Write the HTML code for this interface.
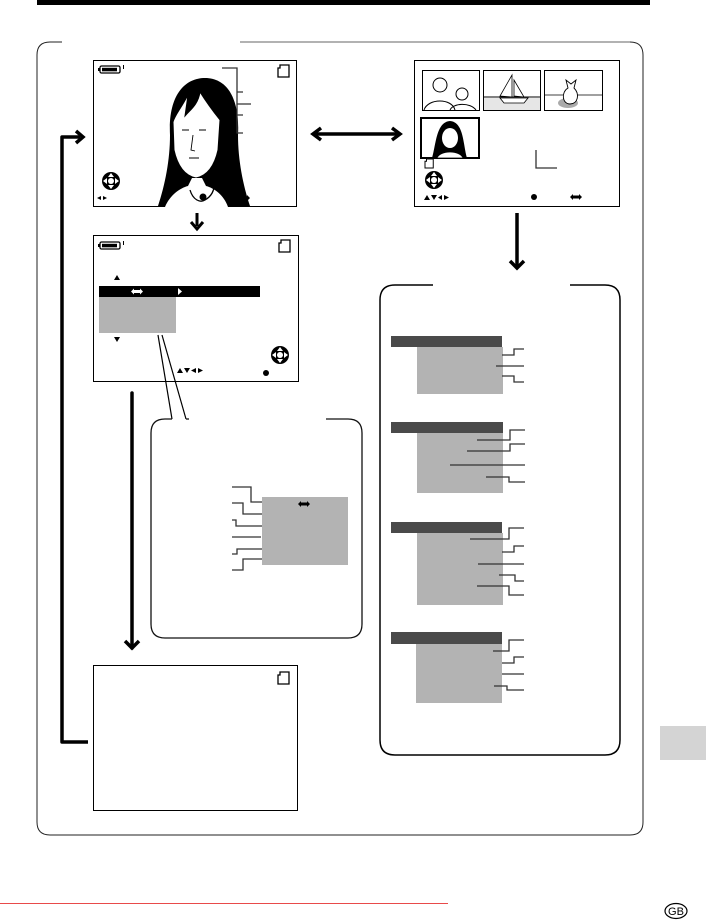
<!DOCTYPE html>
<html><head><meta charset="utf-8"><style>
html,body{margin:0;padding:0;background:#fff;width:706px;height:920px;overflow:hidden}
svg{display:block}
</style></head><body>
<svg width="706" height="920" viewBox="0 0 706 920" xmlns="http://www.w3.org/2000/svg">
<defs>
<g id="dpad">
<circle cx="0" cy="0" r="9" fill="#000"/>
<circle cx="0" cy="0" r="3" fill="#fff"/>
<path d="M0,-8 L-3,-4 L3,-4Z M0,8 L-3,4 L3,4Z M-8,0 L-4,-3 L-4,3Z M8,0 L4,-3 L4,3Z" fill="#fff"/>
</g>
<g id="card"><path d="M2,0 H11 V12 H0 V3 L2,3 Z" fill="#fff" stroke="#000" stroke-width="1.3"/></g>
<g id="batt"><rect x="0" y="0" width="20" height="7" rx="1.5" fill="#fff" stroke="#000" stroke-width="1.3"/><rect x="2" y="1.8" width="15" height="3.5" fill="#000"/><rect x="-2" y="2" width="2" height="3" fill="#000"/><rect x="23" y="-1" width="1" height="4" fill="#000"/></g>
<g id="dbl"><path d="M-6,0 L-3,-3 V-1.5 H3 V-3 L6,0 L3,3 V1.5 H-3 V3Z" fill="#000"/></g>
<g id="dblw"><path d="M-6,0 L-3,-3 V-1.5 H3 V-3 L6,0 L3,3 V1.5 H-3 V3Z" fill="#fff"/></g>
</defs>

<rect x="37" y="0" width="613" height="5" fill="#000"/>

<path d="M62,42 H50 Q37,42 37,55 V822 Q37,835 50,835 H630 Q643,835 643,822 V55 Q643,42 630,42 H240" fill="none" stroke="#222" stroke-width="1"/>
<path d="M240,42 H630" stroke="#999" stroke-width="1.5"/>

<!-- Screen 1 -->
<rect x="93.5" y="60.5" width="203" height="146" fill="#fff" stroke="#000" stroke-width="1"/>
<use href="#batt" x="100" y="66"/>
<use href="#card" x="278" y="65"/>
<path d="M158,206 C165,185 170,160 170,135 C168,95 185,78 205,78 C228,78 240,100 238,135 C238,160 243,185 250,206 Z" fill="#000"/>
<path d="M188,95 C180,110 175,115 173,122 L174,150 C178,168 186,176 196,178 C206,176 214,168 218,150 L220,120 C212,110 205,100 200,92 C198,105 190,110 185,116 Z" fill="#fff" stroke="#000" stroke-width="1"/>
<path d="M165,207 C170,195 180,188 188,186 L192,178 L202,178 L206,186 C214,188 224,195 228,207 Z" fill="#fff"/>
<path d="M190,190 C193,200 200,203 205,200 C212,196 214,190 214,186" fill="none" stroke="#000" stroke-width="1.3"/>
<circle cx="203" cy="197" r="3.5" fill="#000"/>
<path d="M182,130 h7 M199,130 h7 M193,135 L191,150 L195,151 M189,158 h10" stroke="#000" stroke-width="0.9" fill="none"/>
<path d="M222,68 H237 V133 H243 M237,92 H243 M237,104 H251 M237,115 H243" fill="none" stroke="#333" stroke-width="1.3"/>
<use href="#dpad" x="111" y="181"/>
<path d="M97,198 L101,196 L101,200Z M103,196 L107,198 L103,200Z" fill="#000"/>
<use href="#dbl" x="244" y="198"/>

<path d="M197,213 V226" stroke="#000" stroke-width="3"/>
<path d="M191,222 L197,229 L203,222" fill="none" stroke="#000" stroke-width="3"/>

<!-- Screen 2 -->
<rect x="93.5" y="235.5" width="205" height="146" fill="#fff" stroke="#000" stroke-width="1"/>
<use href="#batt" x="100" y="242"/>
<use href="#card" x="279" y="240"/>
<path d="M117,275 L120,280 L114,280Z M117,342 L120,337 L114,337Z" fill="#000"/>
<rect x="99" y="286" width="161" height="11" fill="#000"/>
<rect x="99" y="297" width="77" height="36" fill="#b3b3b3"/>
<use href="#dblw" x="137" y="291.5"/>
<path d="M178,288 L182,291.5 L178,295Z" fill="#fff"/>
<use href="#dpad" x="280" y="355"/>
<path d="M177,373 L180,368 L183,373Z M184,368 L190,368 L187,373Z M196,368 L196,373 L191,370.5Z M198,368 L198,373 L203,370.5Z" fill="#000"/>
<circle cx="266" cy="373" r="3" fill="#000"/>
<path d="M158,335 L172,419 M162,335 L186,419" stroke="#000" stroke-width="1.2"/>

<path d="M88,742 H62 V137 H80" fill="none" stroke="#000" stroke-width="3.5" stroke-linejoin="round"/>
<path d="M76,131 L83,137 L76,143" fill="none" stroke="#000" stroke-width="3.5"/>

<path d="M315,134 H398" stroke="#000" stroke-width="3.5"/>
<path d="M321,128 L313,134 L321,140 M392,128 L400,134 L392,140" fill="none" stroke="#000" stroke-width="3.5"/>

<path d="M132,393 V648" stroke="#000" stroke-width="3.5" stroke-linecap="round"/>
<path d="M125,641 L132,648 L139,641" fill="none" stroke="#000" stroke-width="3.5"/>

<path d="M172,419 H165 Q151,419 151,433 V624 Q151,638 165,638 H348 Q362,638 362,624 V433 Q362,419 348,419 H326" fill="none" stroke="#111" stroke-width="1.3"/>
<path d="M186,419 H189" stroke="#111" stroke-width="1.3"/>
<rect x="262" y="497" width="86" height="68" fill="#b3b3b3"/>
<use href="#dbl" x="304" y="504"/>
<g fill="none" stroke="#333" stroke-width="1.3">
<path d="M232,487 H251 V502 H262"/>
<path d="M232,503 H243 V514 H262"/>
<path d="M232,520 H236 V526 H262"/>
<path d="M232,537 H261"/>
<path d="M232,554 H237 V549 H262"/>
<path d="M232,570 H243 V559 H262"/>
</g>

<rect x="93.5" y="665.5" width="204" height="145" fill="#fff" stroke="#000" stroke-width="1"/>
<use href="#card" x="278" y="672"/>

<!-- Thumbnail screen -->
<rect x="414.5" y="60.5" width="205" height="146" fill="#fff" stroke="#000" stroke-width="1"/>
<g stroke="#000" stroke-width="1" fill="#fff">
<rect x="422.5" y="70.5" width="57" height="40"/>
<rect x="483.5" y="70.5" width="57" height="40"/>
<rect x="544.5" y="70.5" width="58" height="40"/>
</g>
<circle cx="440" cy="85" r="7" fill="none" stroke="#000"/>
<circle cx="462" cy="94" r="6" fill="none" stroke="#000"/>
<path d="M424,110 C428,98 452,98 455,110 M450,110 C453,103 470,102 476,110" fill="none" stroke="#000"/>
<path d="M484,97 H540" stroke="#000"/>
<rect x="484" y="98" width="56" height="12" fill="#e6e6e6"/>
<path d="M512,75 L512,97 L500,96Z M514,80 L524,97 L514,96Z M500,98 H528 L524,103 H504Z" fill="#fff" stroke="#000" stroke-width="0.8"/>
<path d="M545,95 H602" stroke="#000" stroke-width="0.8"/>
<ellipse cx="568" cy="103" rx="10" ry="5" fill="#aaa"/>
<path d="M568,88 C561,92 562,104 570,104 C578,104 580,94 574,88 L576,80 L571,84 L566,80 Z" fill="#fff" stroke="#000" stroke-width="0.9"/>
<rect x="421" y="118" width="58" height="40" fill="#fff" stroke="#000" stroke-width="2"/>
<path d="M432,158 C436,145 436,122 450,121 C464,122 463,145 467,158Z" fill="#000"/>
<ellipse cx="450" cy="138" rx="8" ry="10" fill="#fff"/>
<path d="M437,158 C440,150 460,150 463,158Z" fill="#fff" stroke="#000" stroke-width="0.7"/>
<use href="#card" transform="translate(425 159) scale(0.75)"/>
<path d="M536,150 V168 H557" fill="none" stroke="#333" stroke-width="1.3"/>
<use href="#dpad" x="434" y="180"/>
<path d="M424,200 L427,195 L430,200Z M431,195 L437,195 L434,200Z M442,195 L442,200 L438,197.5Z M444,195 L444,200 L449,197.5Z" fill="#000"/>
<circle cx="534" cy="197" r="3" fill="#000"/>
<use href="#dbl" x="576" y="197"/>

<path d="M517,213 V267" stroke="#000" stroke-width="3.5"/>
<path d="M510,261 L517,268 L524,261" fill="none" stroke="#000" stroke-width="3.5"/>

<path d="M433,285 H395 Q380,285 380,300 V740 Q380,755 395,755 H605 Q620,755 620,740 V300 Q620,285 605,285 H570" fill="none" stroke="#000" stroke-width="1.5"/>

<g fill="#4a4a4a">
<rect x="391" y="336" width="111" height="11"/>
<rect x="391" y="422" width="112" height="11"/>
<rect x="391" y="522" width="111" height="11"/>
<rect x="391" y="632" width="111" height="12"/>
</g>
<g fill="#b3b3b3">
<rect x="417" y="347" width="86" height="47"/>
<rect x="417" y="433" width="86" height="60"/>
<rect x="417" y="533" width="86" height="72"/>
<rect x="416" y="644" width="86" height="59"/>
</g>
<g fill="none" stroke="#333" stroke-width="1.3">
<path d="M502,355 H514 V349 H524"/>
<path d="M496,366 H524"/>
<path d="M502,376 H514 V382 H524"/>
<path d="M477,440 H510 V430 H525"/>
<path d="M467,451 H510 V444 H525"/>
<path d="M450,465 H525"/>
<path d="M486,477 H509 V482 H525"/>
<path d="M470,539 H509 V528 H524"/>
<path d="M502,552 H514 V546 H524"/>
<path d="M478,564 H524"/>
<path d="M499,575 H515 V581 H524"/>
<path d="M477,586 H509 V595 H524"/>
<path d="M493,651 H509 V640 H524"/>
<path d="M502,663 H514 V657 H524"/>
<path d="M502,674 H524"/>
<path d="M494,686 H507 V690 H524"/>
</g>

<rect x="660" y="726" width="46" height="34" fill="#d4d4d4"/>
<rect x="0" y="903" width="448" height="1" fill="#e84a4a"/>
<ellipse cx="676" cy="911" rx="11" ry="7.5" fill="#fff" stroke="#000" stroke-width="1.2"/>
<text x="676" y="915" font-family="Liberation Sans, sans-serif" font-size="11" text-anchor="middle" fill="#000">GB</text>
</svg>
</body></html>
